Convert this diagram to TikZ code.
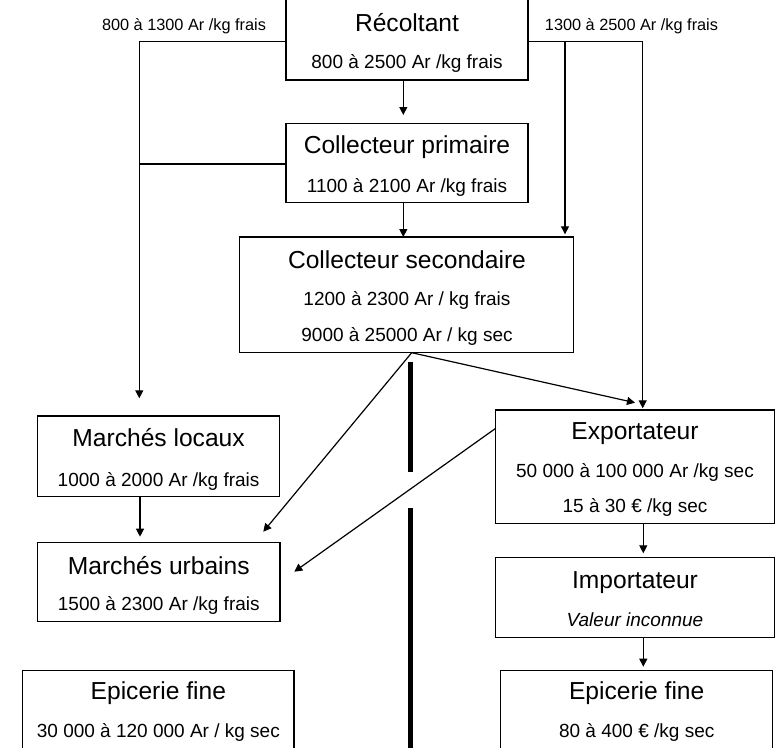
\documentclass[tikz,border=0pt]{standalone}
\usepackage{fontspec}
\setmainfont{Liberation Sans}
\usetikzlibrary{arrows.meta,calc}
\tikzset{
  box/.style={draw=black, line width=1.2pt, inner sep=0pt, outer sep=0pt, fill=white},
  ttl/.style={anchor=base, inner sep=0pt, font=\fontsize{24.6}{28}\selectfont},
  val/.style={anchor=base, inner sep=0pt, font=\fontsize{19}{22}\selectfont},
  lbl/.style={anchor=base, inner sep=0pt, font=\fontsize{16.3}{18}\selectfont},
  con/.style={draw=black, line width=1.2pt},
  arr/.style={con, -{Triangle[length=8pt,width=8pt]}},
  sep/.style={draw=black, line width=4.6pt}
}
\begin{document}
\begin{tikzpicture}[x=1pt,y=-1pt]
\path[use as bounding box, clip] (0,0) rectangle (775,747);
\fill[white] (0,0) rectangle (775,747);

% boxes
\node[box, minimum width=242pt, minimum height=90pt] (rec) at (407,35) {};
\node[box, minimum width=242pt, minimum height=78.8pt] (cp) at (407,162.9) {};
\node[box, minimum width=333.6pt, minimum height=115.7pt] (cs) at (406.5,294.85) {};
\node[box, minimum width=241.8pt, minimum height=80.7pt] (ml) at (158.6,456.35) {};
\node[box, minimum width=242.3pt, minimum height=79pt] (mu) at (158.8,582.2) {};
\node[box, minimum width=271.3pt, minimum height=89.3pt] (epl) at (158.35,715.35) {};
\node[box, minimum width=278.6pt, minimum height=113.3pt] (exp) at (635,466.65) {};
\node[box, minimum width=278.6pt, minimum height=79.6pt] (imp) at (635,597.5) {};
\node[box, minimum width=272pt, minimum height=89.3pt] (epr) at (636.7,715.35) {};

% texts
\node[ttl] (rec-a) at (407,31) {Récoltant};
\node[val] (rec-b) at (407,68.3) {800 à 2500 Ar /kg frais};
\node[ttl] (cp-a) at (407,153) {Collecteur primaire};
\node[val] (cp-b) at (407,192) {1100 à 2100 Ar /kg frais};
\node[ttl] (cs-a) at (407,268.3) {Collecteur secondaire};
\node[val] (cs-b) at (407,305) {1200 à 2300 Ar / kg frais};
\node[val] (cs-c) at (407,341.7) {9000 à 25000 Ar / kg sec};
\node[ttl] (ml-a) at (158.6,446.7) {Marchés locaux};
\node[val] (ml-b) at (158.6,486) {1000 à 2000 Ar /kg frais};
\node[ttl] (mu-a) at (158.8,574) {Marchés urbains};
\node[val] (mu-b) at (158.8,610.7) {1500 à 2300 Ar /kg frais};
\node[ttl] (epl-a) at (158.35,699.3) {Epicerie fine};
\node[val] (epl-b) at (158.35,737.3) {30 000 à 120 000 Ar / kg sec};
\node[ttl] (exp-a) at (635,439.3) {Exportateur};
\node[val] (exp-b) at (635,477.3) {50 000 à 100 000 Ar /kg sec};
\node[val] (exp-c) at (635,512.7) {15 à 30 € /kg sec};
\node[ttl] (imp-a) at (635,588.3) {Importateur};
\node[val] (imp-b) at (635,626.7) {\itshape Valeur inconnue};
\node[ttl] (epr-a) at (636.7,699.3) {Epicerie fine};
\node[val] (epr-b) at (636.7,737.3) {80 à 400 € /kg sec};

% top labels
\node[lbl] (ll) at (184,30.5) {800 à 1300 Ar /kg frais};
\node[lbl] (lr) at (631.5,30.5) {1300 à 2500 Ar /kg frais};

% connector points
\coordinate (jl) at (139.3,41.7);
\coordinate (jl2) at (139.3,164);
\coordinate (mlin) at (139.3,398.3);
\coordinate (cpin) at (403.3,115);
\coordinate (jr) at (642.7,41.7);
\coordinate (jm) at (565,41.7);
\coordinate (csin) at (565,234.3);
\coordinate (expin) at (642.7,408.3);
\coordinate (csout) at (411.7,352.7);
\coordinate (murin1) at (263.3,531.7);
\coordinate (expin2) at (635,402.7);
\coordinate (expout) at (495.7,428.3);
\coordinate (murin2) at (294.3,571.7);
\coordinate (muin) at (140,536.7);
\coordinate (impin) at (643.3,553.3);
\coordinate (eprin) at (643.3,666.7);
\coordinate (sa) at (410.5,361.7);
\coordinate (sb) at (410.5,471.7);
\coordinate (sc) at (410.5,508.3);
\coordinate (sd) at (410.5,760);

% connectors
\draw[arr] (rec.west |- jl) -- (jl) -- (mlin);
\draw[con] (cp.west |- jl2) -- (jl2);
\draw[arr] (rec.south -| cpin) -- (cpin);
\draw[arr] (cp.south -| cpin) -- (cs.north -| cpin);
\draw[arr] (rec.east |- jr) -- (jr) -- (expin);
\draw[arr] (jm) -- (csin);
\draw[arr] (csout) -- (murin1);
\draw[arr] (csout) -- (expin2);
\draw[arr] (expout) -- (murin2);
\draw[arr] (ml.south -| muin) -- (muin);
\draw[arr] (exp.south -| impin) -- (impin);
\draw[arr] (imp.south -| eprin) -- (eprin);

% separator
\draw[sep] (sa) -- (sb);
\draw[sep] (sc) -- (sd);
\end{tikzpicture}
\end{document}
